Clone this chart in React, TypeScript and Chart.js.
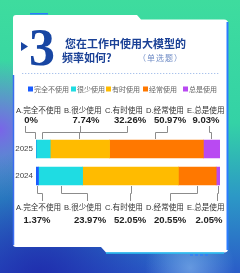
import React, { useEffect, useRef } from 'react';
import { Chart, registerables } from 'chart.js';

Chart.register(...registerables);

const categories = ['2025', '2024'];
const optionLetters = ['A', 'B', 'C', 'D', 'E'];
const optionNames = ['完全不使用', '很少使用', '有时使用', '经常使用', '总是使用'];
const values2025 = [0, 7.74, 32.26, 50.97, 9.03];
const values2024 = [1.37, 23.97, 52.05, 20.55, 2.05];
const seriesColors = ['#1a5cff', '#1fdce2', '#ffbb00', '#ff7800', '#b94af2'];

const CJK = '"Noto Sans CJK SC"';
const LAT = '"Liberation Sans", "Noto Sans CJK SC"';

// layout constants (positions only)
const labelLeftX = [16, 64, 105, 146, 187];
const topPctX = [31, 86, 130, 170, 206];
const botPctX = [37, 90, 130, 170, 209];
const topAnchorX = [25, 80, 127, 167, 209];
const botAnchorX = [42, 87, 130, 170, 217];
const legendSqX = [28, 71, 106, 143, 183];

function drawBackground(ctx: CanvasRenderingContext2D, W: number, H: number) {
  const g = ctx.createLinearGradient(0, 0, 0, H);
  g.addColorStop(0, '#3edc9e');
  g.addColorStop(0.45, '#34d2a6');
  g.addColorStop(0.72, '#2c98c6');
  g.addColorStop(1, '#2a5cc8');
  ctx.fillStyle = g;
  ctx.fillRect(0, 0, W, H);

  let r = ctx.createRadialGradient(0, 130, 0, 0, 130, 70);
  r.addColorStop(0, 'rgba(125,95,235,0.95)');
  r.addColorStop(1, 'rgba(125,95,235,0)');
  ctx.fillStyle = r;
  ctx.fillRect(0, 0, W, H);

  r = ctx.createRadialGradient(40, 280, 0, 40, 280, 130);
  r.addColorStop(0, 'rgba(30,40,170,0.9)');
  r.addColorStop(1, 'rgba(30,40,170,0)');
  ctx.fillStyle = r;
  ctx.fillRect(0, 0, W, H);

  r = ctx.createRadialGradient(190, 268, 0, 190, 268, 45);
  r.addColorStop(0, 'rgba(140,190,240,0.6)');
  r.addColorStop(1, 'rgba(140,190,240,0)');
  ctx.fillStyle = r;
  ctx.fillRect(0, 0, W, H);
}

function drawCard(ctx: CanvasRenderingContext2D) {
  ctx.save();
  ctx.beginPath();
  ctx.moveTo(16, 15);
  ctx.lineTo(137, 15);
  ctx.lineTo(141, 19.5);
  ctx.lineTo(224, 19.5);
  ctx.quadraticCurveTo(228, 19.5, 228, 23);
  ctx.lineTo(228, 249);
  ctx.quadraticCurveTo(228, 252.5, 224, 252.5);
  ctx.lineTo(106, 252.5);
  ctx.lineTo(101, 247);
  ctx.lineTo(16, 247);
  ctx.quadraticCurveTo(13, 247, 13, 244);
  ctx.lineTo(13, 18);
  ctx.quadraticCurveTo(13, 15, 16, 15);
  ctx.closePath();
  ctx.fillStyle = '#ffffff';
  ctx.fill();

  ctx.strokeStyle = '#2a7cff';
  ctx.lineWidth = 2;
  ctx.beginPath();
  ctx.moveTo(227.5, 22);
  ctx.lineTo(227.5, 250);
  ctx.stroke();

  ctx.strokeStyle = '#2cc4f2';
  ctx.lineWidth = 1.5;
  ctx.beginPath();
  ctx.moveTo(106, 253);
  ctx.lineTo(224, 253);
  ctx.stroke();

  ctx.strokeStyle = '#3a6cf0';
  ctx.lineWidth = 1.5;
  ctx.beginPath();
  ctx.moveTo(13.5, 75);
  ctx.lineTo(13.5, 245);
  ctx.stroke();

  ctx.fillStyle = '#2a7cff';
  ctx.fillRect(30, 13, 18, 1.5);
  ctx.fillStyle = 'rgba(42,124,255,0.6)';
  for (let i = 0; i < 4; i++) ctx.fillRect(190 + i * 5, 254, 3, 2);
  ctx.restore();
}

function drawTitle(ctx: CanvasRenderingContext2D) {
  ctx.save();
  ctx.fillStyle = '#1846a3';
  ctx.beginPath();
  ctx.moveTo(21, 42);
  ctx.lineTo(28, 46.5);
  ctx.lineTo(21, 51);
  ctx.closePath();
  ctx.fill();

  ctx.font = 'bold 52px "Liberation Serif"';
  ctx.textBaseline = 'alphabetic';
  ctx.textAlign = 'left';
  ctx.fillText('3', 29, 65);

  ctx.fillStyle = '#1b4196';
  ctx.font = `bold 11px ${CJK}`;
  ctx.textBaseline = 'middle';
  ctx.fillText('您在工作中使用大模型的', 65, 44);
  ctx.fillText('频率如何?', 62, 57.5);

  ctx.fillStyle = '#6f8cc6';
  ctx.font = `8px ${CJK}`;
  const chars = ['（', '单', '选', '题', '）'];
  chars.forEach((c, i) => ctx.fillText(c, 138 + i * 9, 57.5));

  ctx.fillStyle = '#a9c2ec';
  for (let x = 22; x < 218; x += 3) ctx.fillRect(x, 73, 1.3, 1);
  ctx.restore();
}

function drawLegend(ctx: CanvasRenderingContext2D) {
  ctx.save();
  ctx.font = `7px ${CJK}`;
  ctx.textBaseline = 'middle';
  optionNames.forEach((name, i) => {
    ctx.fillStyle = seriesColors[i];
    ctx.fillRect(legendSqX[i], 86.5, 5, 5);
    ctx.fillStyle = '#666';
    ctx.fillText(name, legendSqX[i] + 6, 89.5);
  });
  ctx.restore();
}

const infographicPlugin = {
  id: 'infographic',
  beforeDraw(chart: any) {
    const ctx = chart.ctx as CanvasRenderingContext2D;
    drawBackground(ctx, chart.width, chart.height);
    drawCard(ctx);
    drawTitle(ctx);
    drawLegend(ctx);
  },
  afterDatasetsDraw(chart: any) {
    const ctx = chart.ctx as CanvasRenderingContext2D;
    const yScale = chart.scales.y;
    ctx.save();
    ctx.textBaseline = 'middle';

    // category labels
    ctx.fillStyle = '#444';
    ctx.font = `8px "Liberation Sans"`;
    ctx.textAlign = 'right';
    categories.forEach((c, i) => {
      ctx.fillText(c, chart.chartArea.left - 3, yScale.getPixelForValue(i));
    });

    // label rows
    const rows = [
      { labelY: 110.5, pctY: 120.5, vals: values2025, pctX: topPctX },
      { labelY: 207.5, pctY: 220.5, vals: values2024, pctX: botPctX },
    ];
    rows.forEach((row) => {
      optionNames.forEach((name, i) => {
        ctx.fillStyle = '#333';
        ctx.font = `7.6px ${LAT}`;
        ctx.textAlign = 'left';
        ctx.fillText(`${optionLetters[i]}.${name}`, labelLeftX[i], row.labelY);
        ctx.fillStyle = '#222';
        ctx.font = `bold 9.5px "Liberation Sans"`;
        ctx.textAlign = 'center';
        ctx.fillText(`${row.vals[i]}%`, row.pctX[i], row.pctY);
      });
    });

    // connectors
    ctx.strokeStyle = '#8c8c8c';
    ctx.lineWidth = 1;
    optionNames.forEach((_, i) => {
      const meta = chart.getDatasetMeta(i);
      const b0 = meta.data[0].getProps(['x', 'base', 'y', 'height'], true);
      const b1 = meta.data[1].getProps(['x', 'base', 'y', 'height'], true);
      const c0 = Math.round((b0.x + b0.base) / 2) - 0.5;
      const top0 = b0.y - b0.height / 2;
      const a0 = topAnchorX[i] + 0.5;
      ctx.beginPath();
      ctx.moveTo(a0, 126);
      ctx.lineTo(a0, 132.5);
      ctx.lineTo(c0, 132.5);
      ctx.lineTo(c0, top0 - 1);
      ctx.stroke();

      const c1 = Math.round((b1.x + b1.base) / 2) + 0.5;
      const bot1 = b1.y + b1.height / 2;
      const a1 = botAnchorX[i] + 0.5;
      ctx.beginPath();
      ctx.moveTo(c1, bot1 + 1);
      ctx.lineTo(c1, 193.5);
      ctx.lineTo(a1, 193.5);
      ctx.lineTo(a1, 201);
      ctx.stroke();
    });
    ctx.restore();
  },
};

export default function App() {
  const canvasRef = useRef<HTMLCanvasElement | null>(null);

  useEffect(() => {
    if (!canvasRef.current) return;
    const chart = new Chart(canvasRef.current, {
      type: 'bar',
      data: {
        labels: categories,
        datasets: optionNames.map((name, i) => ({
          label: name,
          data: [values2025[i], values2024[i]],
          backgroundColor: seriesColors[i],
          borderWidth: 0,
          barThickness: 18,
        })),
      },
      options: {
        indexAxis: 'y',
        responsive: false,
        animation: false,
        devicePixelRatio: 1,
        layout: { padding: { top: 135.5, bottom: 83.5, left: 36, right: 20 } },
        plugins: { legend: { display: false }, tooltip: { enabled: false } },
        scales: {
          x: { stacked: true, min: 0, max: 100, display: false },
          y: { stacked: true, display: false },
        },
      } as any,
      plugins: [infographicPlugin],
    });
    return () => chart.destroy();
  }, []);

  return (
    <div style={{ position: 'fixed', left: 0, top: 0, width: 240, height: 273 }}>
      <canvas ref={canvasRef} width={240} height={273} style={{ display: 'block' }} />
    </div>
  );
}
